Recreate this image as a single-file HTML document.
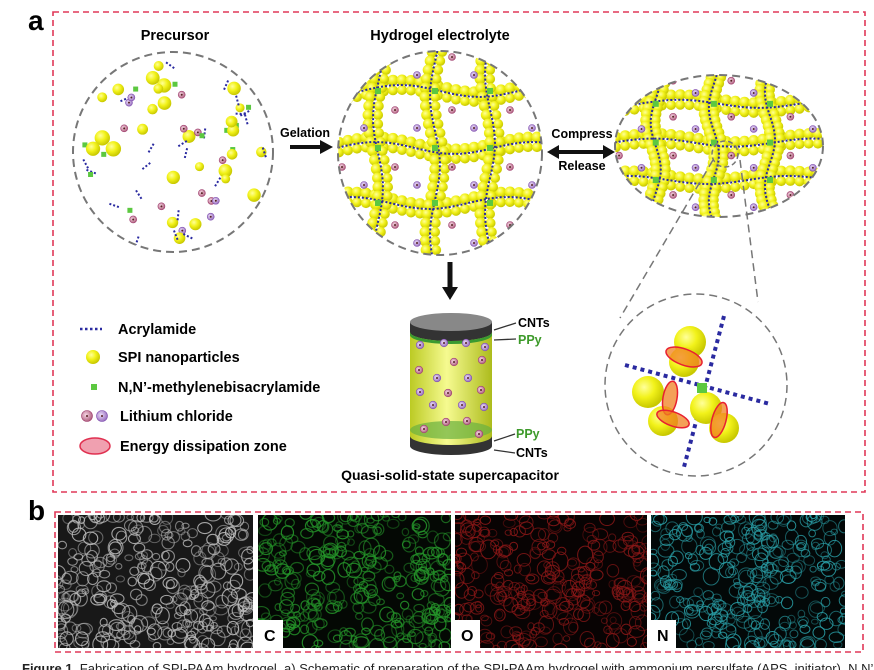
<!DOCTYPE html>
<html><head><meta charset="utf-8"><style>
body{margin:0;background:#fff;width:874px;height:670px;overflow:hidden}
svg{display:block}
text{font-family:"Liberation Sans",Arial,sans-serif;font-weight:bold}
</style></head><body>
<svg id="s" width="874" height="670" viewBox="0 0 874 670" xmlns="http://www.w3.org/2000/svg">
<defs>
<radialGradient id="ball" cx="0.38" cy="0.35" r="0.65"><stop offset="0" stop-color="#ffff9a"/><stop offset="0.5" stop-color="#f2f21a"/><stop offset="1" stop-color="#c8c800"/></radialGradient>
<radialGradient id="ionp" cx="0.4" cy="0.4" r="0.6"><stop offset="0" stop-color="#f7d7e6"/><stop offset="1" stop-color="#b0607f"/></radialGradient>
<radialGradient id="ionm" cx="0.4" cy="0.4" r="0.6"><stop offset="0" stop-color="#eadcf7"/><stop offset="1" stop-color="#9a70c0"/></radialGradient>
<linearGradient id="cyl" x1="0" x2="1"><stop offset="0" stop-color="#b8c818"/><stop offset="0.45" stop-color="#f5fa8a"/><stop offset="1" stop-color="#a8b810"/></linearGradient>
<clipPath id="c1"><circle cx="173" cy="152" r="100"/></clipPath>
<clipPath id="c2"><circle cx="440" cy="153" r="102"/></clipPath>
<clipPath id="c3"><ellipse cx="719" cy="146" rx="104" ry="71"/></clipPath>
<clipPath id="p1"><rect x="58" y="515" width="195" height="133"/></clipPath>
<clipPath id="p2"><rect x="258" y="515" width="193" height="133"/></clipPath>
<clipPath id="p3"><rect x="455" y="515" width="192" height="133"/></clipPath>
<clipPath id="p4"><rect x="651" y="515" width="194" height="133"/></clipPath>
</defs>
<text x="28" y="30" font-size="28">a</text>
<text x="28" y="520" font-size="28">b</text>
<rect x="53" y="12" width="812" height="480" fill="none" stroke="#e03858" stroke-width="1.6" stroke-dasharray="6,4"/>
<rect x="55" y="512" width="808" height="140" fill="none" stroke="#e03858" stroke-width="1.6" stroke-dasharray="6,4"/>
<text x="175" y="40" font-size="14.5" text-anchor="middle">Precursor</text>
<text x="440" y="40" font-size="14.5" text-anchor="middle">Hydrogel electrolyte</text>
<g id="g1" clip-path="url(#c1)"></g>
<g id="g2" clip-path="url(#c2)"></g>
<g id="g3" clip-path="url(#c3)"></g>
<circle cx="173" cy="152" r="100" fill="none" stroke="#777" stroke-width="2" stroke-dasharray="8,5"/>
<circle cx="440" cy="153" r="102" fill="none" stroke="#777" stroke-width="2" stroke-dasharray="8,5"/>
<ellipse cx="719" cy="146" rx="104" ry="71" fill="none" stroke="#777" stroke-width="2" stroke-dasharray="8,5"/>
<circle cx="725" cy="154" r="13" fill="none" stroke="#777" stroke-width="1.5" stroke-dasharray="5,3"/>
<line x1="713" y1="160" x2="620" y2="318" stroke="#777" stroke-width="1.5" stroke-dasharray="8,5"/>
<line x1="740" y1="160" x2="758" y2="302" stroke="#777" stroke-width="1.5" stroke-dasharray="8,5"/>
<text x="305" y="137" font-size="12.5" text-anchor="middle">Gelation</text>
<path d="M290 147 H322" stroke="#111" stroke-width="4"/><path d="M320 140 L333 147 L320 154Z" fill="#111"/>
<text x="582" y="138" font-size="12.5" text-anchor="middle">Compress</text>
<text x="582" y="170" font-size="12.5" text-anchor="middle">Release</text>
<path d="M556 152 H606" stroke="#111" stroke-width="4"/><path d="M559 145 L547 152 L559 159Z M603 145 L615 152 L603 159Z" fill="#111"/>
<path d="M450 262 V290" stroke="#111" stroke-width="5"/><path d="M442 287 L450 300 L458 287Z" fill="#111"/>
<path d="M410 330 V442 A41 9 0 0 0 492 442 V330Z" fill="url(#cyl)" opacity="0.95"/>
<ellipse cx="451" cy="430" rx="41" ry="9" fill="#6ab040" opacity="0.7"/>
<path d="M410 436 V446 A41 9 0 0 0 492 446 V436 A41 9 0 0 1 410 436Z" fill="#333"/>
<path d="M410 322 V332 A41 9 0 0 0 492 332 V322Z" fill="#333"/>
<path d="M410 332 A41 9 0 0 0 492 332 V335 A41 9 0 0 1 410 335Z" fill="#3a9a30"/>
<ellipse cx="451" cy="322" rx="41" ry="9" fill="#888"/>
<g id="cylions"></g>
<text x="518" y="327" font-size="12.5">CNTs</text>
<text x="518" y="344" font-size="12.5" fill="#3d9a2a">PPy</text>
<text x="516" y="438" font-size="12.5" fill="#3d9a2a">PPy</text>
<text x="516" y="457" font-size="12.5">CNTs</text>
<path d="M494 330 L516 323M494 340 L516 339M494 441 L515 434M494 450 L515 453" stroke="#333" stroke-width="1.3"/>
<text x="450" y="480" font-size="14" text-anchor="middle">Quasi-solid-state supercapacitor</text>
<circle cx="696" cy="385" r="91" fill="none" stroke="#777" stroke-width="1.5" stroke-dasharray="8,5"/>
<g id="zc"></g>
<g id="leg"></g>
<text x="118" y="334" font-size="14.5">Acrylamide</text>
<text x="118" y="362" font-size="14.5">SPI nanoparticles</text>
<text x="118" y="392" font-size="14.5">N,N’-methylenebisacrylamide</text>
<text x="120" y="421" font-size="14.5">Lithium chloride</text>
<text x="120" y="451" font-size="14.5">Energy dissipation zone</text>
<rect x="58" y="515" width="195" height="133" fill="#181818"/>
<rect x="258" y="515" width="193" height="133" fill="#040804"/>
<rect x="455" y="515" width="192" height="133" fill="#080303"/>
<rect x="651" y="515" width="194" height="133" fill="#030808"/>
<g id="s1" clip-path="url(#p1)"></g><g id="s2" clip-path="url(#p2)"></g><g id="s3" clip-path="url(#p3)"></g><g id="s4" clip-path="url(#p4)"></g>
<rect x="258" y="620" width="25" height="28" fill="#fff"/><text x="264" y="641" font-size="16">C</text>
<rect x="455" y="620" width="25" height="28" fill="#fff"/><text x="461" y="641" font-size="16">O</text>
<rect x="651" y="620" width="25" height="28" fill="#fff"/><text x="657" y="641" font-size="16">N</text>
<text x="22" y="673" font-size="13" style="font-weight:normal" fill="#222"><tspan style="font-weight:bold">Figure 1.</tspan> Fabrication of SPI-PAAm hydrogel. a) Schematic of preparation of the SPI-PAAm hydrogel with ammonium persulfate (APS, initiator), N,N’</text>
</svg>
<script>
var NS="http://www.w3.org/2000/svg",seed=7;
function r(){seed=(seed*16807)%2147483647;return seed/2147483647}
function el(p,t,a){var e=document.createElementNS(NS,t);for(var k in a)e.setAttribute(k,a[k]);document.getElementById(p).appendChild(e);return e}
function ball(p,x,y,R){el(p,"circle",{cx:x,cy:y,r:R,fill:"url(#ball)"})}
function ion(p,x,y,plus,R){R=R||4;el(p,"circle",{cx:x,cy:y,r:R,fill:plus?"url(#ionp)":"url(#ionm)",stroke:plus?"#a04070":"#8050b0","stroke-width":0.6});el(p,"circle",{cx:x,cy:y,r:1,fill:"#522"})}
function dots(p,x1,y1,x2,y2,w){el(p,"line",{x1:x1,y1:y1,x2:x2,y2:y2,stroke:"#2a2aa0","stroke-width":w||2,"stroke-dasharray":(w?w:2)+","+(w?w:2)})}
function sq(p,x,y,s){el(p,"rect",{x:x-s/2,y:y-s/2,width:s,height:s,fill:"#5cc840"})}
for(var i=0;i<75;i++){var a=r()*6.28,d=Math.sqrt(r())*92,x=173+d*Math.cos(a),y=152+d*Math.sin(a);
 var t=r(); if(t<0.38)ball("g1",x,y,4.5+r()*3.5); else if(t<0.62)ion("g1",x,y,r()<.5,3.5); else if(t<0.76)sq("g1",x,y,5); else {var an=r()*3;dots("g1",x,y,x+12*Math.cos(an),y+12*Math.sin(an))}}
function net(g,cx,cy,sx,sy){
 var H=[-62,-5,50],V=[-62,-5,50];
 for(var i=0;i<3;i++){var yy=H[i];for(var x=-110;x<110;x+=9){var yb=cy+(yy+6*Math.sin(x/25+i))*sy;ball(g,cx+x*sx,yb-5,5.5);ball(g,cx+x*sx,yb+5,5)}}
 for(var j=0;j<3;j++){var xx=V[j];for(var y=-110;y<110;y+=9){var xb=cx+(xx+5*Math.sin(y/22+j))*sx;ball(g,xb-5,cy+y*sy,5.5);ball(g,xb+5,cy+y*sy,5)}}
 for(var i=0;i<3;i++){var p=[];for(var x=-110;x<=110;x+=10)p.push((cx+x*sx)+","+(cy+(H[i]+6*Math.sin(x/25+i))*sy));el(g,"polyline",{points:p.join(" "),fill:"none",stroke:"#2a2aa0","stroke-width":2,"stroke-dasharray":"2,2"})}
 for(var j=0;j<3;j++){var p=[];for(var y=-110;y<=110;y+=10)p.push((cx+(V[j]+5*Math.sin(y/22+j))*sx)+","+(cy+y*sy));el(g,"polyline",{points:p.join(" "),fill:"none",stroke:"#2a2aa0","stroke-width":2,"stroke-dasharray":"2,2"})}
 for(var i=0;i<3;i++)for(var j=0;j<3;j++)sq(g,cx+V[j]*sx,cy+H[i]*sy,6);
 var cells=[-35,22,80,-88];for(var i=0;i<4;i++)for(var j=0;j<4;j++){ion(g,cx+(cells[j]-10)*sx,cy+(cells[i]-8)*sy,1,3.5);ion(g,cx+(cells[j]+12)*sx,cy+(cells[i]+10)*sy,0,3.5)}
}
net("g2",440,153,1,1);net("g3",719,146,1.02,0.68);
var cp=[[420,345,0],[444,343,0],[466,343,0],[485,347,0],[419,370,1],[454,362,1],[482,360,1],[437,378,0],[468,378,0],[420,392,0],[448,393,1],[481,390,1],[433,405,0],[462,405,0],[484,407,0],[446,422,1],[467,421,1],[424,429,1],[479,434,1]];
cp.forEach(function(c){ion("cylions",c[0],c[1],c[2],3.8)});
dots("zc",625,365,770,404,4);dots("zc",724,316,684,467,4);
ball("zc",690,342,16);ball("zc",684,362,15);ball("zc",648,392,16);ball("zc",663,421,15);ball("zc",706,408,16);ball("zc",724,428,15);
sq("zc",702,388,10);
[[684,357,19,8,20],[670,398,7,17,10],[673,419,17,7,20],[719,420,7,18,15]].forEach(function(e){el("zc","ellipse",{cx:e[0],cy:e[1],rx:e[2],ry:e[3],transform:"rotate("+e[4]+" "+e[0]+" "+e[1]+")",fill:"#f08020","fill-opacity":0.75,stroke:"#e82030","stroke-width":1.5})});
dots("leg",80,329,102,329,2.5);ball("leg",93,357,7);sq("leg",94,387,6);
ion("leg",87,416,1,5.5);ion("leg",102,416,0,5.5);
el("leg","ellipse",{cx:95,cy:446,rx:15,ry:8,fill:"#f0a0b0",stroke:"#e03050","stroke-width":1.5});
function sem(g,x0,col,n,w){for(var i=0;i<n;i++){var x=x0+r()*196,y=513+r()*137,R=3+r()*5;el(g,"ellipse",{cx:x,cy:y,rx:R,ry:R*(0.7+r()*0.5),fill:"none",stroke:col,"stroke-width":w,opacity:0.4+r()*0.5})}}
sem("s1",57,"#bdbdbd",300,1.1);sem("s2",257,"#25952a",300,1.2);sem("s3",454,"#8c1818",300,1);sem("s4",650,"#2aa0a8",300,1);
</script>
</body></html>
